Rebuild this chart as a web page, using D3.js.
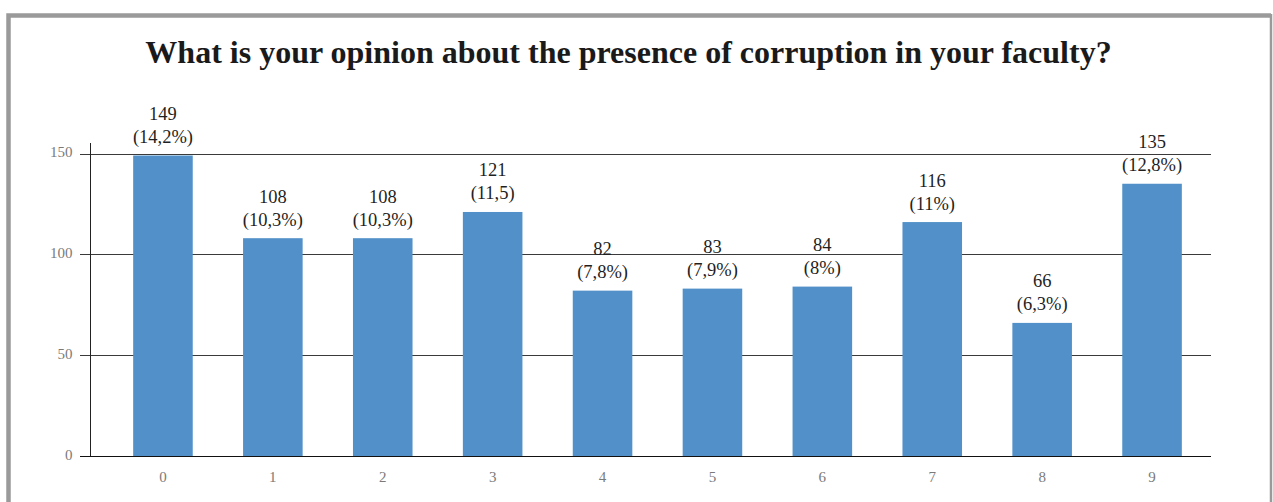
<!DOCTYPE html>
<html>
<head>
<meta charset="utf-8">
<script src="https://cdn.jsdelivr.net/npm/d3@7"></script>
<style>
  html, body { margin: 0; padding: 0; background: #fff; }
  svg { display: block; }
</style>
</head>
<body>
<svg id="chart" width="1273" height="502"></svg>
<script>
// Answers on a 0–9 scale and how many respondents picked each
const categories = ["0", "1", "2", "3", "4", "5", "6", "7", "8", "9"];
const counts = [149, 108, 108, 121, 82, 83, 84, 116, 66, 135];
const shares = ["(14,2%)", "(10,3%)", "(10,3%)", "(11,5)", "(7,8%)", "(7,9%)", "(8%)", "(11%)", "(6,3%)", "(12,8%)"];
const yTicks = [0, 50, 100, 150];
const title = "What is your opinion about the presence of corruption in your faculty?";

const svg = d3.select("#chart");
const serif = "'Liberation Serif', 'Times New Roman', serif";

// Outer frame
svg.append("path")
  .attr("d", "M8.5,502 V15.5 H1271")
  .attr("fill", "none").attr("stroke", "#9a9a9a").attr("stroke-width", 4.5);
svg.append("line")
  .attr("x1", 1271).attr("x2", 1271).attr("y1", 14).attr("y2", 502)
  .attr("stroke", "#9a9a9a").attr("stroke-width", 2.5);

// Title
svg.append("text")
  .attr("x", 628.5).attr("y", 63)
  .attr("text-anchor", "middle")
  .attr("font-family", serif).attr("font-weight", "bold")
  .attr("font-size", 32).attr("fill", "#1a1a1a")
  .text(title);

const x = d3.scaleBand().domain(categories).range([108, 1207]).paddingInner(0.458).paddingOuter(0.229);
const y = d3.scaleLinear().domain([0, 150]).range([456, 153.5]);

const gridLeft = 80, gridRight = 1211, axisX = 90.5;

// Horizontal gridlines with short ticks left of the axis
svg.append("g").selectAll("line")
  .data(yTicks.filter(d => d > 0))
  .join("line")
  .attr("x1", gridLeft).attr("x2", gridRight)
  .attr("y1", d => Math.round(y(d)) + 0.5).attr("y2", d => Math.round(y(d)) + 0.5)
  .attr("stroke", "#3a3a3a").attr("stroke-width", 1);

// Vertical axis line
svg.append("line")
  .attr("x1", axisX).attr("x2", axisX)
  .attr("y1", 143).attr("y2", 456)
  .attr("stroke", "#222").attr("stroke-width", 1);

// Y tick labels
svg.append("g").selectAll("text")
  .data(yTicks)
  .join("text")
  .attr("x", 72.5).attr("y", d => y(d) - 1.5)
  .attr("dy", "0.35em")
  .attr("text-anchor", "end")
  .attr("font-family", serif).attr("font-size", 15).attr("fill", "#7a7a7a")
  .text(d => d);

// Bars
svg.append("g").selectAll("rect")
  .data(counts)
  .join("rect")
  .attr("x", (d, i) => x(categories[i]))
  .attr("width", x.bandwidth())
  .attr("y", d => y(d))
  .attr("height", d => y(0) - y(d))
  .attr("fill", "#5190c8");

// Baseline
svg.append("line")
  .attr("x1", gridLeft).attr("x2", gridRight)
  .attr("y1", 456.5).attr("y2", 456.5)
  .attr("stroke", "#111").attr("stroke-width", 1.2);

// X tick labels
svg.append("g").selectAll("text")
  .data(categories)
  .join("text")
  .attr("x", d => x(d) + x.bandwidth() / 2)
  .attr("y", 477).attr("dy", "0.35em")
  .attr("text-anchor", "middle")
  .attr("font-family", serif).attr("font-size", 15).attr("fill", "#7a7a7a")
  .text(d => d);

// Value labels: count above share
const labels = svg.append("g").selectAll("g")
  .data(counts)
  .join("g")
  .attr("transform", (d, i) => `translate(${x(categories[i]) + x.bandwidth() / 2},${y(d)})`)
  .attr("font-family", serif).attr("font-size", 18.5).attr("fill", "#1f1f1f")
  .attr("text-anchor", "middle");
labels.append("text").attr("y", -42).attr("dy", "0.35em").text(d => d);
labels.append("text").attr("y", -19).attr("dy", "0.35em").text((d, i) => shares[i]);
</script>
</body>
</html>
